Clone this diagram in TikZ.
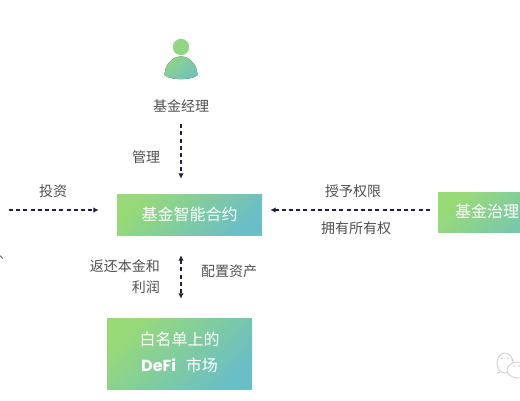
\documentclass[tikz,border=0pt]{standalone}
\usepackage{fontspec}
\setmainfont{Noto Sans CJK SC}
\newfontfamily\latinbold[BoldFont=Poppins Bold]{Poppins}
\usetikzlibrary{arrows.meta}
\definecolor{gA}{HTML}{98DA78}
\definecolor{gB}{HTML}{6ABEC6}
\definecolor{inkline}{HTML}{20203C}
\definecolor{labelink}{HTML}{505050}
\tikzset{
  gradbox/.style={inner sep=0pt, text=white, align=center, top color=gA, bottom color=gB, shading angle=45, font=\fontsize{16}{26}\selectfont},
  flow/.style={draw=inkline, line width=1.2pt, dash pattern=on 4pt off 3.2pt, -{Latex[length=5.5pt,width=5.5pt]}},
  flowboth/.style={flow, {Latex[length=5.5pt,width=5.5pt]}-{Latex[length=5.5pt,width=5.5pt]}},
  lbl/.style={inner sep=0pt, text=labelink, font=\fontsize{14}{21}\selectfont},
  faint/.style={draw=black!20, line width=0.8pt, fill=white}
}
\begin{document}
\begin{tikzpicture}[x=1pt,y=-1pt]
\path[use as bounding box] (0,0) rectangle (520,400);
\clip (0,0) rectangle (520,400);
\fill[white] (0,0) rectangle (520,400);
% person icon
\fill[gA!85!gB] (181,47) circle (8.2);
\fill[top color=gA!80!gB, bottom color=gB!85!gA, shading angle=40] (164.5,75) .. controls (165,65) and (172,56.5) .. (181,56.5)
  .. controls (190,56.5) and (197,65) .. (197.5,75)
  .. controls (192,80.5) and (170,80.5) .. (164.5,75) -- cycle;
% nodes
\node[lbl, minimum height=16pt] (mgr) at (181,106) {基金经理};
\node[gradbox, minimum width=145pt, minimum height=41pt] (main) at (189.5,214.5) {\raisebox{1.5pt}{基金智能合约}};
\node[gradbox, minimum width=145pt, minimum height=71pt] (market) at (179.5,353.5) {\raisebox{3pt}{白名单上的}\\[0pt]\raisebox{3pt}{{\latinbold\bfseries DeFi}\hspace{0.6em}市场}};
\node[gradbox, minimum width=146pt, minimum height=40pt] (gov) at (511,212) {\raisebox{2pt}{基金治理}\hspace{48pt}};
\coordinate (investor) at (9,210);
% connectors
\draw[flow, shorten <=10pt, shorten >=15pt] (mgr.south) -- (mgr.south |- main.north);
\draw[flow, shorten >=18pt] (investor) -- (main.west |- investor);
\draw[flow, shorten <=8pt, shorten >=8pt] (gov.west |- investor) -- (main.east |- investor);
\draw[flowboth, shorten <=20pt, shorten >=19pt] (main.south -| mgr.south) -- (market.north -| mgr.south);
% labels
\node[lbl] (lguan) at (146,157) {管理};
\node[lbl] (ltou) at (53,191) {投资};
\node[lbl] (lshou) at (353,191) {授予权限};
\node[lbl] (lyong) at (356,228) {拥有所有权};
\node[lbl, anchor=east] (lfan) at (160,266) {返还本金和};
\node[lbl, anchor=east] (lli) at (160,287) {利润};
\node[lbl] (lpei) at (229,271) {配置资产};
% cut-off mark, left edge
\draw[black!70, line width=0.7pt] (0,255.5) -- (3,258.5);
% faint speech bubbles, lower right
\draw[faint] (505,363) ellipse (8 and 10);
\draw[faint] (500,372) -- (497,373.5);
\draw[faint] (518,370) ellipse (11 and 8);
\fill[black!22] (502,358.5) circle (0.9) (508,358.5) circle (0.9) (514,366) circle (0.8) (519,366) circle (0.8);
\end{tikzpicture}
\end{document}
